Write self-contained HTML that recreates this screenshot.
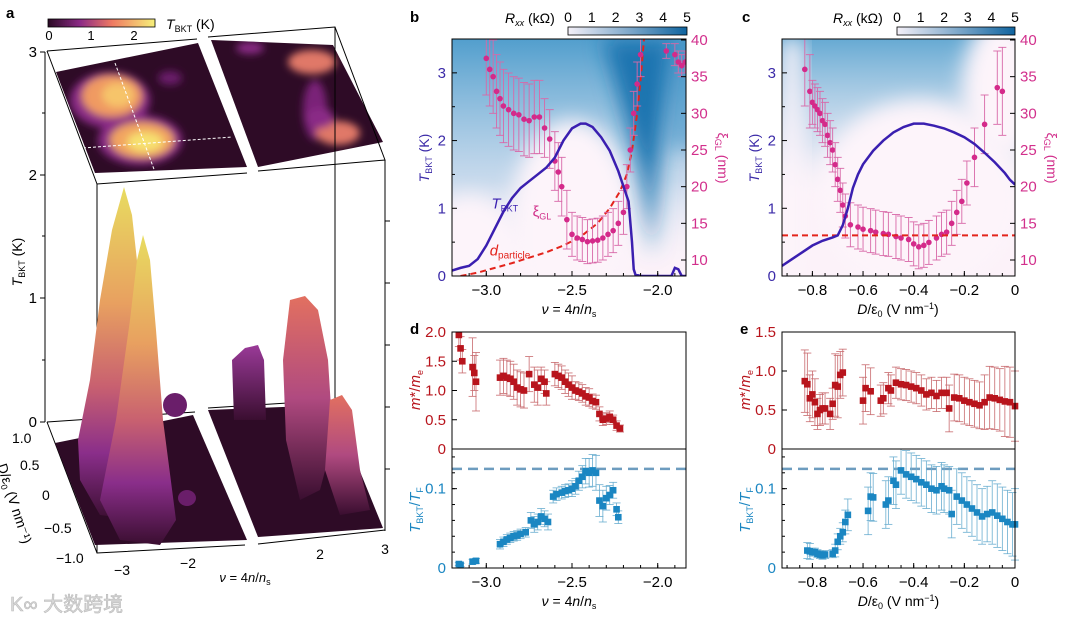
<!DOCTYPE html>
<html><head><meta charset="utf-8"><style>
html,body{margin:0;padding:0;background:#fff}
svg{display:block;font-family:"Liberation Sans","Noto Sans CJK SC",sans-serif}
</style></head><body>
<svg id="fig" width="1080" height="619" viewBox="0 0 1080 619" xmlns="http://www.w3.org/2000/svg">
<defs>
<linearGradient id="magma" x1="0" x2="1" y1="0" y2="0"><stop offset="0" stop-color="#2a0a24"/><stop offset="0.3" stop-color="#8c2a86"/><stop offset="0.6" stop-color="#ef7a62"/><stop offset="1" stop-color="#f6f07a"/></linearGradient>
<linearGradient id="bluebar" x1="0" x2="1"><stop offset="0" stop-color="#f4f0f8"/><stop offset="1" stop-color="#0f649f"/></linearGradient>
<linearGradient id="peakG" x1="0" x2="0" y1="0" y2="1"><stop offset="0" stop-color="#e8dc60"/><stop offset="0.35" stop-color="#e8a060"/><stop offset="0.6" stop-color="#c86070"/><stop offset="0.8" stop-color="#8a2e8a"/><stop offset="1" stop-color="#3a0e30"/></linearGradient>
<linearGradient id="peakR" x1="0" x2="0" y1="0" y2="1"><stop offset="0" stop-color="#e27060"/><stop offset="0.5" stop-color="#b04a80"/><stop offset="1" stop-color="#3a0e30"/></linearGradient>
<linearGradient id="peakP" x1="0" x2="0" y1="0" y2="1"><stop offset="0" stop-color="#9a3a98"/><stop offset="1" stop-color="#3a0e30"/></linearGradient>
<linearGradient id="topBlueB" x1="0" x2="0" y1="0" y2="1"><stop offset="0" stop-color="#3f95c8" stop-opacity="0.9"/><stop offset="0.6" stop-color="#6aaed6" stop-opacity="0.35"/><stop offset="1" stop-color="#ffffff" stop-opacity="0"/></linearGradient>
<linearGradient id="topBlueC" x1="0" x2="0" y1="0" y2="1"><stop offset="0" stop-color="#4c9dcc" stop-opacity="0.85"/><stop offset="0.45" stop-color="#8cc0de" stop-opacity="0.3"/><stop offset="0.7" stop-color="#ffffff" stop-opacity="0"/></linearGradient>
<filter id="blur8" x="-50%" y="-50%" width="200%" height="200%"><feGaussianBlur stdDeviation="10"/></filter>
<filter id="blur4" x="-50%" y="-50%" width="200%" height="200%"><feGaussianBlur stdDeviation="4"/></filter>
<clipPath id="clipB"><rect x="452" y="39" width="234" height="237"/></clipPath>
<clipPath id="clipC"><rect x="782" y="39" width="233" height="237"/></clipPath>
<clipPath id="clipTopL"><polygon points="56,72 198,43 247,167 95,173"/></clipPath>
<clipPath id="clipTopR"><polygon points="211,40 333,45 383,142 258,167"/></clipPath>
</defs>

<!-- Panel a -->
<g>
<text x="6" y="18" font-size="15" font-weight="bold">a</text>
<rect x="48" y="19" width="107" height="8" fill="url(#magma)" stroke="#000" stroke-width="0.8"/>
<g font-size="13" text-anchor="middle"><text x="49" y="40">0</text><text x="91" y="40">1</text><text x="134" y="40">2</text></g>
<text x="166" y="29" font-size="14"><tspan font-style="italic">T</tspan><tspan font-size="9" dy="3">BKT</tspan><tspan dy="-3"> (K)</tspan></text>
<!-- top heatmap -->
<polygon points="56,72 198,43 247,167 95,173" fill="#2e0b26"/>
<polygon points="211,40 333,45 383,142 258,167" fill="#2e0b26"/>
<g clip-path="url(#clipTopL)" filter="url(#blur4)">
<ellipse cx="110" cy="100" rx="40" ry="28" fill="#8a2a86"/><ellipse cx="112" cy="96" rx="30" ry="21" fill="#f09a62"/><ellipse cx="118" cy="95" rx="16" ry="12" fill="#f6c46a"/>
<ellipse cx="140" cy="140" rx="42" ry="25" fill="#8a2a86"/><ellipse cx="142" cy="140" rx="32" ry="18" fill="#f2a460"/><ellipse cx="145" cy="142" rx="18" ry="10" fill="#f6e070"/>
<ellipse cx="170" cy="78" rx="12" ry="7" fill="#6a1e6a"/>
</g>
<g clip-path="url(#clipTopR)" filter="url(#blur4)">
<ellipse cx="312" cy="62" rx="24" ry="12" fill="#e07868"/><ellipse cx="250" cy="48" rx="14" ry="6" fill="#8a2a86"/>
<ellipse cx="315" cy="110" rx="12" ry="30" fill="#7a2278"/>
<ellipse cx="338" cy="133" rx="22" ry="12" fill="#e07868"/><ellipse cx="320" cy="118" rx="14" ry="10" fill="#8a2a86"/>
</g>
<line x1="115" y1="63" x2="155" y2="172" stroke="#fff" stroke-dasharray="3,2" stroke-width="1"/>
<line x1="83" y1="148" x2="232" y2="137" stroke="#fff" stroke-dasharray="3,2" stroke-width="1"/>
<g stroke="#000" stroke-width="1" fill="none">
<polyline points="47,51 197,39"/><polyline points="208,37 335,27 385,160 258,171"/><polyline points="247,173 97,184 47,51"/>
<line x1="97" y1="184" x2="97" y2="553"/><line x1="335" y1="27" x2="335" y2="400"/><line x1="385" y1="160" x2="385" y2="531"/>
<line x1="45" y1="52" x2="45" y2="422"/>
<polyline points="47,422 97,553 245,545"/><polyline points="258,544 385,530"/>
<polyline points="47,422 195,412"/><polyline points="208,408 335,400"/>
</g>
<g stroke="#000" stroke-width="1">
<line x1="40" y1="52" x2="45" y2="52"/><line x1="40" y1="175" x2="45" y2="175"/><line x1="40" y1="298" x2="45" y2="298"/><line x1="40" y1="422" x2="45" y2="422"/>
<line x1="42" y1="113" x2="45" y2="113"/><line x1="42" y1="236" x2="45" y2="236"/><line x1="42" y1="360" x2="45" y2="360"/>
<line x1="385" y1="221" x2="390" y2="221"/><line x1="385" y1="283" x2="390" y2="283"/><line x1="385" y1="345" x2="390" y2="345"/><line x1="385" y1="407" x2="390" y2="407"/><line x1="385" y1="469" x2="390" y2="469"/>
</g>
<g font-size="15" text-anchor="end"><text x="37" y="57">3</text><text x="37" y="180">2</text><text x="37" y="303">1</text><text x="37" y="427">0</text></g>
<text transform="translate(22,262) rotate(-90)" font-size="14" text-anchor="middle"><tspan font-style="italic">T</tspan><tspan font-size="9" dy="3">BKT</tspan><tspan dy="-3"> (K)</tspan></text>
<!-- floor -->
<polygon points="55,443 193,415 247,540 95,545" fill="#2e0b26"/>
<polygon points="208,410 333,405 383,528 258,537" fill="#2e0b26"/>
<!-- peaks -->
<polygon points="124,187 132,215 138,270 142,330 150,430 160,500 140,520 100,515 80,480 78,440 90,380 100,300 112,230" fill="url(#peakG)"/>
<polygon points="143,235 150,260 156,330 163,420 176,520 160,545 120,540 100,500 116,420 130,320 137,260" fill="url(#peakG)"/>
<ellipse cx="175" cy="405" rx="12" ry="12" fill="#6a1e6a"/>
<ellipse cx="187" cy="498" rx="9" ry="8" fill="#6a1e6a"/>
<polygon points="232,360 245,348 258,345 264,360 266,420 234,420" fill="url(#peakP)"/>
<polygon points="290,300 305,296 318,310 328,360 333,440 320,490 300,500 286,440 283,360" fill="url(#peakR)"/>
<polygon points="330,400 342,395 352,410 360,470 370,510 340,515 325,470" fill="url(#peakR)"/>
<g font-size="14"><text x="12" y="443">1.0</text><text x="20" y="470">0.5</text><text x="42" y="500">0</text><text x="44" y="533">−0.5</text><text x="56" y="563">−1.0</text></g>
<text transform="translate(10,505) rotate(72)" font-size="14" text-anchor="middle">D/ε<tspan font-size="9" dy="3">0</tspan><tspan dy="-3"> (V nm⁻¹)</tspan></text>
<g font-size="14" text-anchor="middle"><text x="122" y="575">−3</text><text x="188" y="568">−2</text><text x="320" y="559">2</text><text x="385" y="554">3</text></g>
<text x="245" y="582" font-size="13" text-anchor="middle"><tspan font-style="italic">ν</tspan> = 4<tspan font-style="italic">n</tspan>/<tspan font-style="italic">n</tspan><tspan font-size="9" dy="3">s</tspan></text>
<text x="10" y="611" font-size="20" fill="#d8d8d8" stroke="#bbb" stroke-width="0.6">K∞ 大数跨境</text>
</g>

<g id="charts"></g>
</svg>
<script>
// ---------- data: panel b ----------
const bNu=[-3.2,-3.15,-3.1,-3.05,-3.0,-2.95,-2.9,-2.85,-2.8,-2.75,-2.7,-2.65,-2.6,-2.55,-2.5,-2.45,-2.42,-2.38,-2.33,-2.28,-2.23,-2.19,-2.17,-2.15,-2.14,-2.13,-2.1,-1.92,-1.9,-1.88,-1.86,-1.835];
const bT=[0.08,0.12,0.15,0.25,0.45,0.7,0.95,1.15,1.3,1.4,1.5,1.6,1.75,2.0,2.18,2.25,2.25,2.2,2.05,1.85,1.55,1.25,1.1,0.5,0.1,0.02,0.0,0.0,0.12,0.1,0.0,0.0];
const bXiNu=[-3.0,-2.98,-2.96,-2.94,-2.92,-2.9,-2.87,-2.84,-2.81,-2.78,-2.75,-2.72,-2.69,-2.66,-2.63,-2.6,-2.58,-2.56,-2.53,-2.5,-2.47,-2.44,-2.41,-2.38,-2.35,-2.32,-2.29,-2.26,-2.23,-2.2,-2.18,-2.16,-2.14,-2.12,-2.1,-1.95,-1.9,-1.88,-1.86,-1.84];
const bXi=[37.5,36,35,33,32,31,30.5,30,29.8,29.2,29,29.5,29.5,28,26.5,23.5,22,20,15.5,13.5,13,12.8,12.5,12.6,12.7,13,13.5,14,15,16.5,20,25,30,34,38,38.5,38,37,36.5,37];
const bXiErr=[5,5,5,5,5,5,5,5,5,5,5,5,5,4,4,4,4,4,4,3,3,3,3,3,3,3,3,3,3,3,3,3,3,3,3,1,1.5,1.5,1.5,1.5];
const bDNu=[-3.15,-3.05,-2.95,-2.85,-2.75,-2.65,-2.55,-2.45,-2.35,-2.28,-2.22,-2.18,-2.15,-2.12,-2.1,-2.08];
const bD=[0.0,0.05,0.12,0.19,0.27,0.35,0.45,0.58,0.78,1.0,1.25,1.5,1.85,2.4,2.9,3.5];
// ---------- data: panel c ----------
const cD=[-0.92,-0.88,-0.84,-0.8,-0.76,-0.72,-0.7,-0.68,-0.66,-0.64,-0.62,-0.6,-0.56,-0.52,-0.48,-0.44,-0.4,-0.36,-0.32,-0.28,-0.24,-0.2,-0.16,-0.12,-0.08,-0.04,-0.02,0];
const cT=[0.15,0.25,0.35,0.45,0.52,0.57,0.6,0.75,1.0,1.3,1.5,1.65,1.85,2.0,2.12,2.2,2.25,2.25,2.22,2.18,2.12,2.05,1.95,1.82,1.68,1.52,1.42,1.35];
const cXiD=[-0.83,-0.81,-0.8,-0.79,-0.78,-0.77,-0.76,-0.75,-0.74,-0.73,-0.72,-0.71,-0.7,-0.69,-0.68,-0.67,-0.65,-0.62,-0.6,-0.57,-0.55,-0.52,-0.5,-0.47,-0.45,-0.42,-0.4,-0.38,-0.36,-0.34,-0.31,-0.29,-0.27,-0.25,-0.23,-0.21,-0.19,-0.16,-0.12,-0.07,-0.05];
const cXi=[36,33,31.5,31,30.5,30,29,28.5,27,26,25,23,21,19.5,17.5,16,14.8,14.5,14.2,14,13.8,13.6,13.5,13.2,13,12.8,12.2,11.8,12,12.4,13,13.5,13.8,15,16.5,18,20.5,24,28.5,33.5,33];
const cXiErr=[5,5,3,3,3,3,3,3,3,3,3,3,3,3,3,3,3,3,3,3,3,3,3,3,3,3,3,3,3,3,3,3,3,3,3,3,3,4,4,5,6];
const cDash=[0.6,0.6];
const cDashX=[-0.92,0];
// ---------- data: panel d ----------
const dNu=[-3.16,-3.15,-3.14,-3.08,-3.07,-3.06,-2.92,-2.9,-2.88,-2.86,-2.84,-2.82,-2.8,-2.78,-2.75,-2.72,-2.7,-2.68,-2.66,-2.65,-2.6,-2.58,-2.56,-2.54,-2.52,-2.5,-2.48,-2.46,-2.44,-2.42,-2.4,-2.38,-2.36,-2.34,-2.32,-2.3,-2.28,-2.26,-2.24,-2.22];
const dM=[1.95,1.72,1.5,1.4,1.3,1.15,1.22,1.25,1.22,1.2,1.15,1.05,1.02,1.0,1.28,1.1,1.05,1.2,1.15,0.95,1.28,1.25,1.22,1.15,1.1,1.05,1.0,0.98,0.95,0.9,0.88,0.82,0.8,0.6,0.5,0.52,0.55,0.5,0.4,0.35];
const dMErr=[0.2,0.2,0.2,0.5,0.3,0.5,0.3,0.3,0.3,0.3,0.3,0.3,0.3,0.3,0.3,0.3,0.3,0.2,0.2,0.2,0.2,0.2,0.2,0.2,0.2,0.2,0.15,0.15,0.15,0.15,0.15,0.12,0.12,0.12,0.1,0.1,0.1,0.08,0.08,0.06];
const dNuR=[-3.16,-3.15,-3.08,-3.06,-2.92,-2.9,-2.88,-2.86,-2.84,-2.82,-2.8,-2.77,-2.74,-2.72,-2.7,-2.68,-2.66,-2.64,-2.61,-2.59,-2.56,-2.54,-2.52,-2.5,-2.48,-2.46,-2.44,-2.42,-2.4,-2.38,-2.36,-2.34,-2.32,-2.3,-2.28,-2.26,-2.24,-2.23];
const dR=[0.005,0.004,0.008,0.009,0.03,0.033,0.036,0.038,0.04,0.041,0.043,0.045,0.06,0.055,0.058,0.065,0.062,0.058,0.09,0.093,0.095,0.097,0.098,0.1,0.103,0.11,0.115,0.122,0.12,0.123,0.12,0.085,0.078,0.088,0.092,0.098,0.074,0.064];
const dRErr=[0.002,0.002,0.003,0.003,0.006,0.006,0.006,0.006,0.006,0.006,0.006,0.006,0.01,0.01,0.01,0.01,0.01,0.01,0.008,0.008,0.008,0.008,0.008,0.01,0.01,0.012,0.014,0.016,0.018,0.02,0.022,0.02,0.02,0.015,0.012,0.01,0.008,0.008];
// ---------- data: panel e ----------
const eD=[-0.83,-0.82,-0.81,-0.8,-0.79,-0.78,-0.77,-0.76,-0.75,-0.73,-0.72,-0.71,-0.7,-0.69,-0.68,-0.6,-0.59,-0.57,-0.53,-0.52,-0.5,-0.49,-0.47,-0.45,-0.43,-0.41,-0.39,-0.37,-0.35,-0.33,-0.31,-0.29,-0.27,-0.26,-0.24,-0.22,-0.2,-0.18,-0.16,-0.14,-0.12,-0.1,-0.08,-0.06,-0.04,-0.02,0];
const eM=[0.87,0.83,0.65,0.7,0.6,0.45,0.5,0.52,0.52,0.45,0.58,0.82,0.8,0.95,0.98,0.62,0.78,0.74,0.62,0.65,0.78,0.75,0.85,0.83,0.82,0.8,0.78,0.75,0.7,0.72,0.68,0.72,0.72,0.52,0.66,0.65,0.62,0.6,0.58,0.56,0.6,0.66,0.65,0.63,0.61,0.6,0.55];
const eMErr=[0.4,0.4,0.3,0.3,0.3,0.2,0.2,0.2,0.2,0.2,0.2,0.4,0.4,0.3,0.3,0.3,0.3,0.3,0.2,0.2,0.2,0.2,0.2,0.2,0.2,0.2,0.2,0.2,0.2,0.2,0.2,0.2,0.2,0.3,0.3,0.3,0.3,0.3,0.3,0.3,0.35,0.4,0.4,0.4,0.45,0.45,0.45];
const eDR=[-0.82,-0.81,-0.8,-0.79,-0.78,-0.77,-0.76,-0.75,-0.72,-0.71,-0.7,-0.69,-0.68,-0.67,-0.66,-0.58,-0.57,-0.56,-0.51,-0.5,-0.48,-0.47,-0.45,-0.43,-0.41,-0.39,-0.37,-0.35,-0.33,-0.31,-0.29,-0.28,-0.26,-0.25,-0.23,-0.21,-0.19,-0.17,-0.15,-0.13,-0.11,-0.09,-0.07,-0.05,-0.03,-0.01,0];
const eR=[0.022,0.021,0.02,0.02,0.018,0.017,0.016,0.017,0.018,0.022,0.033,0.04,0.045,0.058,0.067,0.072,0.09,0.089,0.08,0.085,0.11,0.105,0.123,0.118,0.115,0.112,0.108,0.105,0.1,0.098,0.103,0.1,0.098,0.068,0.09,0.085,0.08,0.075,0.07,0.065,0.068,0.07,0.066,0.062,0.058,0.055,0.055];
const eRErr=[0.01,0.01,0.005,0.005,0.005,0.005,0.005,0.005,0.005,0.008,0.01,0.01,0.012,0.015,0.02,0.03,0.03,0.03,0.03,0.03,0.03,0.03,0.03,0.03,0.03,0.03,0.03,0.03,0.03,0.03,0.03,0.03,0.03,0.03,0.035,0.035,0.035,0.035,0.035,0.035,0.035,0.04,0.04,0.04,0.04,0.04,0.045];
const dashLevel=[0.125];
const mTicksD=["0","0.5","1.0","1.5","2.0"], mTickValsD=[0,0.5,1,1.5,2];
const mTicksE=["0","0.5","1.0","1.5"], mTickValsE=[0,0.5,1,1.5];
const nuTicks=["−3.0","−2.5","−2.0"], nuTickVals=[-3,-2.5,-2];
const dTicks=["−0.8","−0.6","−0.4","−0.2","0"], dTickVals=[-0.8,-0.6,-0.4,-0.2,0];

const NS="http://www.w3.org/2000/svg";
const root=document.getElementById('charts');
function el(tag,attrs,parent){const e=document.createElementNS(NS,tag);for(const k in attrs)e.setAttribute(k,attrs[k]);(parent||root).appendChild(e);return e;}
function lin(d0,d1,r0,r1){return v=>r0+(v-d0)*(r1-r0)/(d1-d0);}
function txt(x,y,s,opt,parent){const t=el('text',Object.assign({x:x,y:y,'font-size':14},opt||{}),parent);t.innerHTML=s;return t;}

const BX=lin(-3.2,-1.835,452,686), CX=lin(-0.92,0,782,1015);
const TY=lin(0,3.5,276,39), XIY=lin(10,40,260,40);
const MYd=lin(0,2,449,332), MYe=lin(0,1.5,449,332), RY=lin(0,0.15,568,449);

function xTicks(g,X,vals,labels,y0,y1,withLabels,minor){
  vals.forEach((v,i)=>{el('line',{x1:X(v),x2:X(v),y1:y1,y2:y1-5,stroke:'#000'},g);
    if(withLabels){txt(X(v),y1+19,labels[i],{'text-anchor':'middle','font-size':15},g);}});
  minor.forEach(v=>el('line',{x1:X(v),x2:X(v),y1:y1,y2:y1-3,stroke:'#000'},g));
}
function rng(a,b,s){const r=[];for(let v=a;v<=b+1e-9;v+=s)r.push(+v.toFixed(4));return r;}

// ---------- Panel b ----------
(function(){
 const g=el('g',{});
 
 
 txt(410,22,'b',{'font-weight':'bold','font-size':15},g);
 const hm=el('g',{'clip-path':'url(#clipB)'},g);
 
 
 el('rect',{x:452,y:39,width:234,height:237,fill:'#fcf2f9'},hm);
 el('rect',{x:452,y:39,width:234,height:237,fill:'url(#topBlueB)'},hm);
 el('ellipse',{cx:BX(-2.5),cy:TY(0.9),rx:60,ry:95,fill:'#fdf4fa',filter:'url(#blur8)'},hm);
 el('ellipse',{cx:BX(-3.1),cy:TY(0.3),rx:50,ry:60,fill:'#fdf4fa',filter:'url(#blur8)'},hm);
 el('polygon',{points:`${BX(-2.32)},39 ${BX(-1.9)},39 ${BX(-2.0)},${TY(1.5)} ${BX(-2.03)},${TY(0.3)} ${BX(-2.1)},${TY(1.5)}`,fill:'#1a74b0',filter:'url(#blur8)'},hm);
 el('rect',{x:BX(-1.95),y:39,width:40,height:110,fill:'#3a8ec4',opacity:0.5,filter:'url(#blur8)'},hm);
 const dp=el('polyline',{points:bDNu.map((v,i)=>BX(v)+','+TY(bD[i])).join(' '),fill:'none',stroke:'#e3241c','stroke-width':2,'stroke-dasharray':'6,4'},hm);
 
 
 bXiNu.forEach((v,i)=>{const x=BX(v);
   el('line',{x1:x,x2:x,y1:XIY(bXi[i]-bXiErr[i]),y2:XIY(bXi[i]+bXiErr[i]),stroke:'#d868a8','stroke-width':0.9},hm);
   el('line',{x1:x-4,x2:x+4,y1:XIY(bXi[i]-bXiErr[i]),y2:XIY(bXi[i]-bXiErr[i]),stroke:'#d868a8','stroke-width':0.9},hm);
   el('line',{x1:x-4,x2:x+4,y1:XIY(bXi[i]+bXiErr[i]),y2:XIY(bXi[i]+bXiErr[i]),stroke:'#d868a8','stroke-width':0.9},hm);
   const c=el('circle',{cx:x,cy:XIY(bXi[i]),r:2.8,fill:'#d42a8a'},hm);
   
   });
 const tl=el('polyline',{points:bNu.map((v,i)=>BX(v)+','+TY(bT[i])).join(' '),fill:'none',stroke:'#3a1fb0','stroke-width':2.5},hm);
 
 
 el('rect',{x:452,y:39,width:234,height:237,fill:'none',stroke:'#000'},g);
 xTicks(g,BX,nuTickVals,nuTicks,39,276,true,rng(-3.2,-1.85,0.1));
 [0,1,2,3].forEach(v=>{el('line',{x1:452,x2:457,y1:TY(v),y2:TY(v),stroke:'#000'},g);txt(446,TY(v)+5,String(v),{'text-anchor':'end',fill:'#3b2aa8','font-size':15},g);});
 rng(0.5,3.5,1).forEach(v=>el('line',{x1:452,x2:455,y1:TY(v),y2:TY(v),stroke:'#000'},g));
 [10,15,20,25,30,35,40].forEach(v=>{el('line',{x1:686,x2:681,y1:XIY(v),y2:XIY(v),stroke:'#000'},g);txt(691,XIY(v)+5,String(v),{fill:'#d22f8c','font-size':15},g);});
 const yl=txt(0,0,'<tspan font-style="italic">T</tspan><tspan font-size="9" dy="3">BKT</tspan><tspan dy="-3"> (K)</tspan>',{transform:'translate(429,158) rotate(-90)','text-anchor':'middle',fill:'#3b2aa8'},g);
 
 
 const yr=txt(0,0,'ξ<tspan font-size="9" dy="3">GL</tspan><tspan dy="-3"> (nm)</tspan>',{transform:'translate(718,158) rotate(90)','text-anchor':'middle',fill:'#d22f8c'},g);
 
 
 const xl=txt(569,314,'<tspan font-style="italic">ν</tspan> = 4<tspan font-style="italic">n</tspan>/<tspan font-style="italic">n</tspan><tspan font-size="9" dy="3">s</tspan>',{'text-anchor':'middle'},g);
 
 
 txt(BX(-2.97),TY(1.0),'<tspan font-style="italic">T</tspan><tspan font-size="9" dy="3">BKT</tspan>',{fill:'#3a1fb0','font-size':15},g);
 txt(BX(-2.73),TY(0.88),'ξ<tspan font-size="9" dy="3">GL</tspan>',{fill:'#d0308a','font-size':15},g);
 txt(BX(-2.98),TY(0.3),'<tspan font-style="italic">d</tspan><tspan font-size="10" dy="3">particle</tspan>',{fill:'#e3241c','font-size':15},g);
 el('rect',{x:568,y:27,width:119,height:8,fill:'url(#bluebar)',stroke:'#000','stroke-width':0.8},g);
 [0,1,2,3,4,5].forEach(v=>txt(568+v*23.8,22,String(v),{'text-anchor':'middle','font-size':14},g));
 txt(505,23,'<tspan font-style="italic">R</tspan><tspan font-size="9" dy="3" font-style="italic">xx</tspan><tspan dy="-3"> (kΩ)</tspan>',{'font-size':14},g);
})();

// ---------- Panel c ----------
(function(){
 const g=el('g',{});
 
 
 txt(742,22,'c',{'font-weight':'bold','font-size':15},g);
 const hm=el('g',{'clip-path':'url(#clipC)'},g);
 
 
 el('rect',{x:782,y:39,width:233,height:237,fill:'#fcf2f9'},hm);
 el('rect',{x:782,y:39,width:233,height:237,fill:'url(#topBlueC)'},hm);
 el('ellipse',{cx:CX(-0.38),cy:TY(1.2),rx:100,ry:95,fill:'#fdf4fa',filter:'url(#blur8)'},hm);
 el('ellipse',{cx:CX(-0.05),cy:TY(2.8),rx:40,ry:70,fill:'#fdf4fa',filter:'url(#blur8)'},hm);
 el('rect',{x:782,y:39,width:20,height:237,fill:'#fdf4fa',filter:'url(#blur8)'},hm);
 cXiD.forEach((v,i)=>{const x=CX(v);
   el('line',{x1:x,x2:x,y1:XIY(cXi[i]-cXiErr[i]),y2:XIY(cXi[i]+cXiErr[i]),stroke:'#d868a8','stroke-width':0.9},hm);
   el('line',{x1:x-4,x2:x+4,y1:XIY(cXi[i]-cXiErr[i]),y2:XIY(cXi[i]-cXiErr[i]),stroke:'#d868a8','stroke-width':0.9},hm);
   el('line',{x1:x-4,x2:x+4,y1:XIY(cXi[i]+cXiErr[i]),y2:XIY(cXi[i]+cXiErr[i]),stroke:'#d868a8','stroke-width':0.9},hm);
   const c=el('circle',{cx:x,cy:XIY(cXi[i]),r:2.8,fill:'#d42a8a'},hm);
   
   });
 const dl=el('line',{x1:CX(cDashX[0]),x2:CX(cDashX[1]),y1:TY(cDash[0]),y2:TY(cDash[1]),stroke:'#e3241c','stroke-width':2,'stroke-dasharray':'6,4'},hm);
 
 
 const tl=el('polyline',{points:cD.map((v,i)=>CX(v)+','+TY(cT[i])).join(' '),fill:'none',stroke:'#3a1fb0','stroke-width':2.5},hm);
 
 
 el('rect',{x:782,y:39,width:233,height:237,fill:'none',stroke:'#000'},g);
 xTicks(g,CX,dTickVals,dTicks,39,276,true,rng(-0.9,0,0.05));
 [0,1,2,3].forEach(v=>{el('line',{x1:782,x2:787,y1:TY(v),y2:TY(v),stroke:'#000'},g);txt(776,TY(v)+5,String(v),{'text-anchor':'end',fill:'#3b2aa8','font-size':15},g);});
 rng(0.5,3.5,1).forEach(v=>el('line',{x1:782,x2:785,y1:TY(v),y2:TY(v),stroke:'#000'},g));
 [10,15,20,25,30,35,40].forEach(v=>{el('line',{x1:1015,x2:1010,y1:XIY(v),y2:XIY(v),stroke:'#000'},g);txt(1020,XIY(v)+5,String(v),{fill:'#d22f8c','font-size':15},g);});
 const yl=txt(0,0,'<tspan font-style="italic">T</tspan><tspan font-size="9" dy="3">BKT</tspan><tspan dy="-3"> (K)</tspan>',{transform:'translate(759,158) rotate(-90)','text-anchor':'middle',fill:'#3b2aa8'},g);
 
 
 const yr=txt(0,0,'ξ<tspan font-size="9" dy="3">GL</tspan><tspan dy="-3"> (nm)</tspan>',{transform:'translate(1047,158) rotate(90)','text-anchor':'middle',fill:'#d22f8c'},g);
 
 
 const xl=txt(898,314,'<tspan font-style="italic">D</tspan>/ε<tspan font-size="9" dy="3">0</tspan><tspan dy="-3"> (V nm</tspan><tspan font-size="9" dy="-5">−1</tspan><tspan dy="5">)</tspan>',{'text-anchor':'middle'},g);
 
 
 el('rect',{x:897,y:27,width:118,height:8,fill:'url(#bluebar)',stroke:'#000','stroke-width':0.8},g);
 [0,1,2,3,4,5].forEach(v=>txt(897+v*23.6,22,String(v),{'text-anchor':'middle','font-size':14},g));
 txt(833,23,'<tspan font-style="italic">R</tspan><tspan font-size="9" dy="3" font-style="italic">xx</tspan><tspan dy="-3"> (kΩ)</tspan>',{'font-size':14},g);
})();

// ---------- Panels d, e ----------
function lowerPanel(name,letter,lx,X,x0,x1,MY,mVals,mLabs,mx,my,merr,rx,ry,rerr,xVals,xLabs,minor,xtitle){
 const g=el('g',{});
 
 
 txt(lx,334,letter,{'font-weight':'bold','font-size':15},g);
 const w=x1-x0;
 const dl=el('line',{x1:x0,x2:x1,y1:RY(dashLevel[0]),y2:RY(dashLevel[0]),stroke:'#6d9cbf','stroke-width':2.5,'stroke-dasharray':'10,6'},g);
 
 
 mx.forEach((v,i)=>{const x=X(v),lo=Math.max(0,my[i]-merr[i]),hi=Math.min(2,my[i]+merr[i]);
  el('line',{x1:x,x2:x,y1:MY(lo),y2:MY(hi),stroke:'#c86a6e','stroke-width':0.8},g);
  el('line',{x1:x-4,x2:x+4,y1:MY(lo),y2:MY(lo),stroke:'#c86a6e','stroke-width':0.8},g);
  el('line',{x1:x-4,x2:x+4,y1:MY(hi),y2:MY(hi),stroke:'#c86a6e','stroke-width':0.8},g);});
 mx.forEach((v,i)=>{const r=el('rect',{x:X(v)-3.3,y:MY(my[i])-3.3,width:6.6,height:6.6,fill:'#b8141c'},g);
  
  });
 rx.forEach((v,i)=>{const x=X(v),lo=Math.max(0,ry[i]-rerr[i]),hi=Math.min(0.15,ry[i]+rerr[i]);
  el('line',{x1:x,x2:x,y1:RY(lo),y2:RY(hi),stroke:'#6aaed0','stroke-width':0.8},g);
  el('line',{x1:x-4,x2:x+4,y1:RY(lo),y2:RY(lo),stroke:'#6aaed0','stroke-width':0.8},g);
  el('line',{x1:x-4,x2:x+4,y1:RY(hi),y2:RY(hi),stroke:'#6aaed0','stroke-width':0.8},g);});
 rx.forEach((v,i)=>{const r=el('rect',{x:X(v)-3.3,y:RY(ry[i])-3.3,width:6.6,height:6.6,fill:'#1a86c2'},g);
  
  });
 el('rect',{x:x0,y:332,width:w,height:236,fill:'none',stroke:'#000'},g);
 el('line',{x1:x0,x2:x1,y1:449,y2:449,stroke:'#000'},g);
 xTicks(g,X,xVals,xLabs,332,568,true,minor);
 mVals.forEach((v,i)=>{el('line',{x1:x0,x2:x0+5,y1:MY(v),y2:MY(v),stroke:'#000'},g);txt(x0-6,MY(v)+5,mLabs[i],{'text-anchor':'end',fill:'#b8141c','font-size':15},g);});
 [0,0.1].forEach((v,i)=>{el('line',{x1:x0,x2:x0+5,y1:RY(v),y2:RY(v),stroke:'#000'},g);txt(x0-6,RY(v)+5,['0','0.1'][i],{'text-anchor':'end',fill:'#1a86c2','font-size':15},g);});
 rng(0.02,0.14,0.02).forEach(v=>el('line',{x1:x0,x2:x0+3,y1:RY(v),y2:RY(v),stroke:'#000'},g));
 const t1=txt(0,0,'<tspan font-style="italic">m</tspan>*/<tspan font-style="italic">m</tspan><tspan font-size="9" dy="3">e</tspan>',{transform:`translate(${x0-32},390) rotate(-90)`,'text-anchor':'middle',fill:'#b8141c','font-size':15},g);
 
 
 const t2=txt(0,0,'<tspan font-style="italic">T</tspan><tspan font-size="9" dy="3">BKT</tspan><tspan dy="-3">/</tspan><tspan font-style="italic">T</tspan><tspan font-size="9" dy="3">F</tspan>',{transform:`translate(${x0-32},510) rotate(-90)`,'text-anchor':'middle',fill:'#1a86c2','font-size':15},g);
 
 
 const xt=txt((x0+x1)/2,606,xtitle,{'text-anchor':'middle'},g);
 
 
}
lowerPanel('panel-d','d',410,BX,452,686,MYd,mTickValsD,mTicksD,dNu,dM,dMErr,dNuR,dR,dRErr,nuTickVals,nuTicks,rng(-3.2,-1.85,0.1),'<tspan font-style="italic">ν</tspan> = 4<tspan font-style="italic">n</tspan>/<tspan font-style="italic">n</tspan><tspan font-size="9" dy="3">s</tspan>');
lowerPanel('panel-e','e',740,CX,782,1015,MYe,mTickValsE,mTicksE,eD,eM,eMErr,eDR,eR,eRErr,dTickVals,dTicks,rng(-0.9,0,0.05),'<tspan font-style="italic">D</tspan>/ε<tspan font-size="9" dy="3">0</tspan><tspan dy="-3"> (V nm</tspan><tspan font-size="9" dy="-5">−1</tspan><tspan dy="5">)</tspan>');
</script>
</body></html>
